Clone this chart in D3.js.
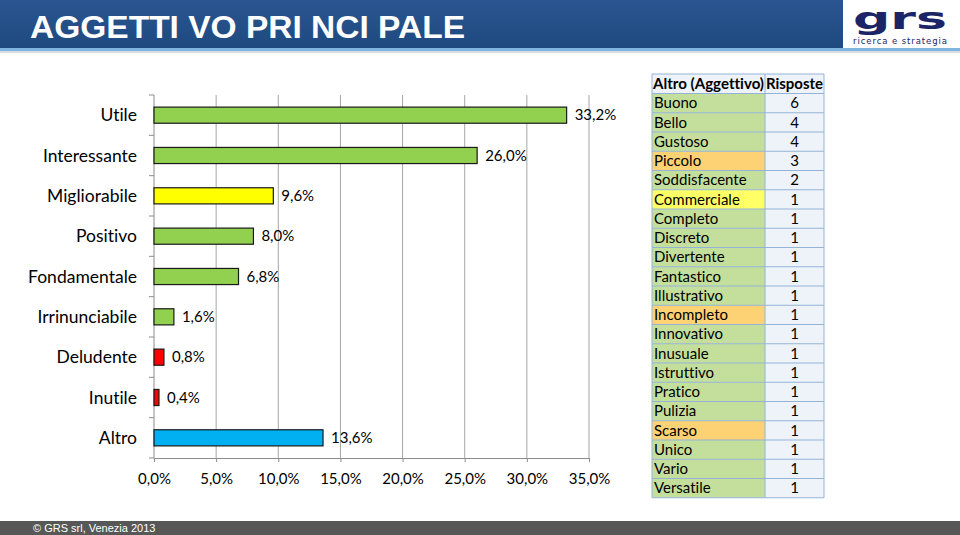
<!DOCTYPE html>
<html>
<head>
<meta charset="utf-8">
<script src="https://cdn.jsdelivr.net/npm/d3@7"></script>
<style>
  body { margin: 0; background: #fff; }
  svg { display: block; }
  text { font-variant-ligatures: none; }
</style>
</head>
<body>
<svg id="chart" width="960" height="535"></svg>
<script>
// chart data
var categories = ["Utile", "Interessante", "Migliorabile", "Positivo", "Fondamentale", "Irrinunciabile", "Deludente", "Inutile", "Altro"];
var values = [33.2, 26.0, 9.6, 8.0, 6.8, 1.6, 0.8, 0.4, 13.6];
var barColors = ["#92d050", "#92d050", "#ffff00", "#92d050", "#92d050", "#92d050", "#ff0000", "#ff0000", "#00b0f0"];
var xTicks = [0, 5, 10, 15, 20, 25, 30, 35];

// table data
var altroNames = ["Buono", "Bello", "Gustoso", "Piccolo", "Soddisfacente", "Commerciale", "Completo", "Discreto", "Divertente", "Fantastico", "Illustrativo", "Incompleto", "Innovativo", "Inusuale", "Istruttivo", "Pratico", "Pulizia", "Scarso", "Unico", "Vario", "Versatile"];
var altroCounts = [6, 4, 4, 3, 2, 1, 1, 1, 1, 1, 1, 1, 1, 1, 1, 1, 1, 1, 1, 1, 1];
var altroTone = ["g", "g", "g", "o", "g", "y", "g", "g", "g", "g", "g", "o", "g", "g", "g", "g", "g", "o", "g", "g", "g"];
var toneFill = { g: "#c4df9b", o: "#fcd274", y: "#ffff66" };

var fmt = function(v){ return v.toFixed(1).replace(".", ",") + "%"; };

var svg = d3.select("#chart");

// header band
var defs = svg.append("defs");
var grad = defs.append("linearGradient").attr("id", "hdr").attr("x1", 0).attr("y1", 0).attr("x2", 0).attr("y2", 1);
grad.append("stop").attr("offset", "0%").attr("stop-color", "#2a5590");
grad.append("stop").attr("offset", "100%").attr("stop-color", "#1e4a80");

svg.append("rect").attr("x", 0).attr("y", 0).attr("width", 960).attr("height", 48).attr("fill", "url(#hdr)");
svg.append("rect").attr("x", 0).attr("y", 48).attr("width", 960).attr("height", 3).attr("fill", "#7fb6e0");
svg.append("rect").attr("x", 0).attr("y", 51).attr("width", 960).attr("height", 2).attr("fill", "#d9dde3");

svg.append("text")
  .attr("x", 30).attr("y", 38)
  .attr("font-family", "Liberation Sans, Arial, sans-serif")
  .attr("font-weight", "bold")
  .attr("font-size", 32)
  .attr("textLength", 435)
  .attr("lengthAdjust", "spacingAndGlyphs")
  .attr("fill", "#fff")
  .text("AGGETTI VO PRI NCI PALE");

// logo box
svg.append("rect").attr("x", 843).attr("y", 0).attr("width", 117).attr("height", 48).attr("fill", "#fff");
svg.append("text")
  .attr("x", 900).attr("y", 29)
  .attr("text-anchor", "middle")
  .attr("font-family", "DejaVu Sans, sans-serif")
  .attr("font-weight", "bold")
  .attr("font-size", 30)
  .attr("textLength", 94)
  .attr("lengthAdjust", "spacingAndGlyphs")
  .attr("fill", "#1b2466")
  .text("grs");
svg.append("text")
  .attr("x", 900).attr("y", 44)
  .attr("text-anchor", "middle")
  .attr("font-family", "DejaVu Sans, sans-serif")
  .attr("font-size", 8.5)
  .attr("textLength", 94)
  .attr("fill", "#1b2466")
  .text("ricerca e strategia");

// footer
svg.append("rect").attr("x", 0).attr("y", 521).attr("width", 960).attr("height", 14).attr("fill", "#575757");
svg.append("text")
  .attr("x", 33).attr("y", 532)
  .attr("font-family", "Liberation Sans, Arial, sans-serif")
  .attr("font-size", 11)
  .attr("fill", "#fff")
  .text("\u00a9  GRS srl, Venezia 2013");

// bar chart
var plot = { left: 154, right: 589, top: 95, bottom: 458 };

var x = d3.scaleLinear().domain([0, 35]).range([plot.left, plot.right]);
var y = d3.scaleBand().domain(categories).range([plot.top, plot.bottom]).paddingInner(0.6).paddingOuter(0.3);
var yb = d3.scaleBand().domain(categories).range([plot.top, plot.bottom]);

var g = svg.append("g");

// gridlines
g.selectAll("line.grid")
  .data(xTicks.slice(1))
  .enter().append("line")
    .attr("class", "grid")
    .attr("x1", function(d){ return x(d); })
    .attr("x2", function(d){ return x(d); })
    .attr("y1", plot.top)
    .attr("y2", plot.bottom)
    .attr("stroke", "#a6a6a6")
    .attr("stroke-width", 1);

// x axis
var xAxis = g.append("g")
  .attr("transform", "translate(0," + plot.bottom + ")")
  .call(d3.axisBottom(x).tickValues(xTicks).tickSize(4).tickSizeOuter(0).tickFormat(fmt).tickPadding(11));
xAxis.select(".domain").attr("stroke", "#8c8c8c");
xAxis.selectAll(".tick line").attr("stroke", "#8c8c8c");
xAxis.selectAll("text")
  .attr("font-family", "Lato, sans-serif")
  .attr("font-size", 15)
  .attr("fill", "#000");

// y axis line and ticks between categories
g.append("line")
  .attr("x1", plot.left).attr("x2", plot.left)
  .attr("y1", plot.top).attr("y2", plot.bottom)
  .attr("stroke", "#8c8c8c");
g.selectAll("line.ytick")
  .data(categories.concat(["end"]))
  .enter().append("line")
    .attr("class", "ytick")
    .attr("x1", plot.left - 5).attr("x2", plot.left)
    .attr("y1", function(d, i){ return plot.top + i * yb.bandwidth(); })
    .attr("y2", function(d, i){ return plot.top + i * yb.bandwidth(); })
    .attr("stroke", "#8c8c8c");

g.selectAll("text.cat")
  .data(categories)
  .enter().append("text")
    .attr("class", "cat")
    .attr("x", 137)
    .attr("y", function(d){ return yb(d) + yb.bandwidth() / 2; })
    .attr("dy", "0.35em")
    .attr("text-anchor", "end")
    .attr("font-family", "Lato, sans-serif")
    .attr("font-size", 17.5)
    .attr("fill", "#000")
    .text(function(d){ return d; });

// bars
g.selectAll("rect.bar")
  .data(values)
  .enter().append("rect")
    .attr("class", "bar")
    .attr("x", x(0))
    .attr("y", function(d, i){ return y(categories[i]); })
    .attr("width", function(d){ return x(d) - x(0); })
    .attr("height", y.bandwidth())
    .attr("fill", function(d, i){ return barColors[i]; })
    .attr("stroke", "#1a1a1a")
    .attr("stroke-width", 1.2);

g.selectAll("text.val")
  .data(values)
  .enter().append("text")
    .attr("class", "val")
    .attr("x", function(d){ return x(d) + 8; })
    .attr("y", function(d, i){ return y(categories[i]) + y.bandwidth() / 2; })
    .attr("dy", "0.35em")
    .attr("font-family", "Lato, sans-serif")
    .attr("font-size", 15)
    .attr("fill", "#000")
    .text(fmt);

// table
var tbl = { x0: 652, x1: 765, x2: 824, top: 74, head: 19.5 };
var rowH = 19.25;
var ty = function(i){ return tbl.top + tbl.head + i * rowH; };

var t = svg.append("g");
t.append("rect").attr("x", tbl.x0).attr("y", tbl.top).attr("width", tbl.x2 - tbl.x0).attr("height", tbl.head).attr("fill", "#eef3fa");

var rows = t.selectAll("g.row")
  .data(altroNames)
  .enter().append("g")
    .attr("class", "row");

rows.append("rect")
  .attr("x", tbl.x0).attr("y", function(d, i){ return ty(i); })
  .attr("width", tbl.x1 - tbl.x0).attr("height", rowH)
  .attr("fill", function(d, i){ return toneFill[altroTone[i]]; });
rows.append("rect")
  .attr("x", tbl.x1).attr("y", function(d, i){ return ty(i); })
  .attr("width", tbl.x2 - tbl.x1).attr("height", rowH)
  .attr("fill", "#eef3fa");

// grid lines of table
var border = "#95b3d7";
t.selectAll("line.h")
  .data(d3.range(altroNames.length + 2))
  .enter().append("line")
    .attr("x1", tbl.x0).attr("x2", tbl.x2)
    .attr("y1", function(i){ return i === 0 ? tbl.top : ty(i - 1); })
    .attr("y2", function(i){ return i === 0 ? tbl.top : ty(i - 1); })
    .attr("stroke", border);
[tbl.x0, tbl.x1, tbl.x2].forEach(function(xx){
  t.append("line")
    .attr("x1", xx).attr("x2", xx)
    .attr("y1", tbl.top).attr("y2", ty(altroNames.length))
    .attr("stroke", border);
});

t.append("text")
  .attr("x", tbl.x0 + 1).attr("y", tbl.top + tbl.head / 2).attr("dy", "0.35em")
  .attr("font-family", "Lato, sans-serif").attr("font-weight", "bold").attr("font-size", 14.5)
  .attr("textLength", tbl.x1 - tbl.x0 - 2)
  .attr("lengthAdjust", "spacingAndGlyphs")
  .text("Altro (Aggettivo)");
t.append("text")
  .attr("x", tbl.x1 + 1).attr("y", tbl.top + tbl.head / 2).attr("dy", "0.35em")
  .attr("font-family", "Lato, sans-serif").attr("font-weight", "bold").attr("font-size", 14.5)
  .attr("textLength", tbl.x2 - tbl.x1 - 2)
  .attr("lengthAdjust", "spacingAndGlyphs")
  .text("Risposte");

rows.append("text")
  .attr("x", tbl.x0 + 2).attr("y", function(d, i){ return ty(i) + rowH / 2; })
  .attr("dy", "0.35em")
  .attr("font-family", "Lato, sans-serif").attr("font-size", 15)
  .attr("fill", "#000")
  .text(function(d){ return d; });
rows.append("text")
  .attr("x", (tbl.x1 + tbl.x2) / 2).attr("y", function(d, i){ return ty(i) + rowH / 2; })
  .attr("dy", "0.35em")
  .attr("text-anchor", "middle")
  .attr("font-family", "Lato, sans-serif").attr("font-size", 15)
  .attr("fill", "#000")
  .text(function(d, i){ return altroCounts[i]; });
</script>
</body>
</html>
